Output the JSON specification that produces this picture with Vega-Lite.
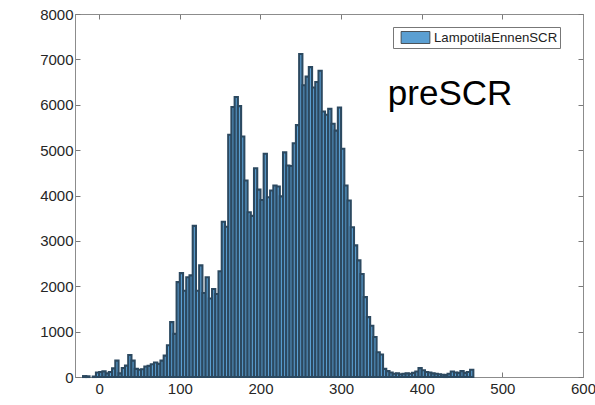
{
  "$schema": "https://vega.github.io/schema/vega-lite/v6.json",
  "width": 508,
  "height": 363,
  "autosize": {"type": "none"},
  "padding": {"left": 75, "top": 14, "right": 12, "bottom": 28},
  "background": "white",
  "config": {
    "view": {"stroke": "#8c8c8c", "strokeWidth": 1},
    "axis": {
      "grid": false,
      "title": null,
      "format": "d",
      "labelFont": "Liberation Sans",
      "labelFontSize": 15,
      "labelColor": "#262626",
      "tickColor": "#7a7a7a",
      "domainColor": "#8c8c8c",
      "labelFlush": false,
      "labelOverlap": false,
      "labelBound": false
    }
  },
  "data": {
    "values": [
      {"lo": -20, "hi": -16, "n": 20}, {"lo": -16, "hi": -12, "n": 15}, {"lo": -8, "hi": -4, "n": 10},
      {"lo": -4, "hi": 0, "n": 100}, {"lo": 0, "hi": 4, "n": 110}, {"lo": 4, "hi": 8, "n": 125},
      {"lo": 8, "hi": 12, "n": 80}, {"lo": 12, "hi": 16, "n": 110}, {"lo": 16, "hi": 20, "n": 190},
      {"lo": 20, "hi": 24, "n": 360}, {"lo": 24, "hi": 28, "n": 80}, {"lo": 28, "hi": 32, "n": 200},
      {"lo": 32, "hi": 36, "n": 250}, {"lo": 36, "hi": 40, "n": 485}, {"lo": 40, "hi": 44, "n": 360},
      {"lo": 44, "hi": 48, "n": 180}, {"lo": 48, "hi": 52, "n": 160}, {"lo": 52, "hi": 56, "n": 170},
      {"lo": 56, "hi": 60, "n": 230}, {"lo": 60, "hi": 64, "n": 245}, {"lo": 64, "hi": 68, "n": 280},
      {"lo": 68, "hi": 72, "n": 320}, {"lo": 72, "hi": 76, "n": 290}, {"lo": 76, "hi": 80, "n": 360},
      {"lo": 80, "hi": 84, "n": 470}, {"lo": 84, "hi": 88, "n": 700}, {"lo": 88, "hi": 92, "n": 1210},
      {"lo": 92, "hi": 96, "n": 950}, {"lo": 96, "hi": 100, "n": 2090}, {"lo": 100, "hi": 104, "n": 2290},
      {"lo": 104, "hi": 108, "n": 1900}, {"lo": 108, "hi": 112, "n": 2200}, {"lo": 112, "hi": 116, "n": 2240},
      {"lo": 116, "hi": 120, "n": 3330}, {"lo": 120, "hi": 124, "n": 1900}, {"lo": 124, "hi": 128, "n": 2460},
      {"lo": 128, "hi": 132, "n": 1850}, {"lo": 132, "hi": 136, "n": 2200}, {"lo": 136, "hi": 140, "n": 1730},
      {"lo": 140, "hi": 144, "n": 1940}, {"lo": 144, "hi": 148, "n": 1830}, {"lo": 148, "hi": 152, "n": 2330},
      {"lo": 152, "hi": 156, "n": 3420}, {"lo": 156, "hi": 160, "n": 3310}, {"lo": 160, "hi": 164, "n": 5340},
      {"lo": 164, "hi": 168, "n": 5950}, {"lo": 168, "hi": 172, "n": 6170}, {"lo": 172, "hi": 176, "n": 5970},
      {"lo": 176, "hi": 180, "n": 5300}, {"lo": 180, "hi": 184, "n": 4330}, {"lo": 184, "hi": 188, "n": 3630},
      {"lo": 188, "hi": 192, "n": 3550}, {"lo": 192, "hi": 196, "n": 4600}, {"lo": 196, "hi": 200, "n": 4130},
      {"lo": 200, "hi": 204, "n": 3900}, {"lo": 204, "hi": 208, "n": 4920}, {"lo": 208, "hi": 212, "n": 3960},
      {"lo": 212, "hi": 216, "n": 4110}, {"lo": 216, "hi": 220, "n": 4220}, {"lo": 220, "hi": 224, "n": 4200},
      {"lo": 224, "hi": 228, "n": 3980}, {"lo": 228, "hi": 232, "n": 4950}, {"lo": 232, "hi": 236, "n": 4660},
      {"lo": 236, "hi": 240, "n": 4650}, {"lo": 240, "hi": 244, "n": 5150}, {"lo": 244, "hi": 248, "n": 5550},
      {"lo": 248, "hi": 252, "n": 7120}, {"lo": 252, "hi": 256, "n": 6430}, {"lo": 256, "hi": 260, "n": 6620},
      {"lo": 260, "hi": 264, "n": 6830}, {"lo": 264, "hi": 268, "n": 6380}, {"lo": 268, "hi": 272, "n": 6500},
      {"lo": 272, "hi": 276, "n": 6750}, {"lo": 276, "hi": 280, "n": 5850}, {"lo": 280, "hi": 284, "n": 5780},
      {"lo": 284, "hi": 288, "n": 5910}, {"lo": 288, "hi": 292, "n": 5580}, {"lo": 292, "hi": 296, "n": 5430},
      {"lo": 296, "hi": 300, "n": 5940}, {"lo": 300, "hi": 304, "n": 5030}, {"lo": 304, "hi": 308, "n": 4220},
      {"lo": 308, "hi": 312, "n": 3890}, {"lo": 312, "hi": 316, "n": 3300}, {"lo": 316, "hi": 320, "n": 2900},
      {"lo": 320, "hi": 324, "n": 2570}, {"lo": 324, "hi": 328, "n": 2270}, {"lo": 328, "hi": 332, "n": 1760},
      {"lo": 332, "hi": 336, "n": 1320}, {"lo": 336, "hi": 340, "n": 1130}, {"lo": 340, "hi": 344, "n": 880},
      {"lo": 344, "hi": 348, "n": 545}, {"lo": 348, "hi": 352, "n": 495}, {"lo": 352, "hi": 356, "n": 180},
      {"lo": 356, "hi": 360, "n": 130}, {"lo": 360, "hi": 364, "n": 100}, {"lo": 364, "hi": 368, "n": 70},
      {"lo": 368, "hi": 372, "n": 80}, {"lo": 372, "hi": 376, "n": 60}, {"lo": 376, "hi": 380, "n": 70},
      {"lo": 380, "hi": 384, "n": 80}, {"lo": 384, "hi": 388, "n": 70}, {"lo": 388, "hi": 392, "n": 90},
      {"lo": 392, "hi": 396, "n": 120}, {"lo": 396, "hi": 400, "n": 195}, {"lo": 400, "hi": 404, "n": 150},
      {"lo": 404, "hi": 408, "n": 110}, {"lo": 408, "hi": 412, "n": 100}, {"lo": 412, "hi": 416, "n": 80},
      {"lo": 416, "hi": 420, "n": 70}, {"lo": 420, "hi": 424, "n": 60}, {"lo": 424, "hi": 428, "n": 50},
      {"lo": 428, "hi": 432, "n": 45}, {"lo": 432, "hi": 436, "n": 70}, {"lo": 436, "hi": 440, "n": 120},
      {"lo": 440, "hi": 444, "n": 100}, {"lo": 444, "hi": 448, "n": 90}, {"lo": 448, "hi": 452, "n": 130},
      {"lo": 452, "hi": 456, "n": 90}, {"lo": 456, "hi": 460, "n": 110}, {"lo": 460, "hi": 464, "n": 160}
    ]
  },
  "layer": [
    {
      "mark": {"type": "bar", "stroke": "#2c4960", "strokeWidth": 2.1, "strokeJoin": "miter"},
      "encoding": {
        "x": {
          "field": "lo", "type": "quantitative",
          "scale": {"domain": [-30, 600], "nice": false, "zero": false},
          "axis": {"orient": "bottom", "values": [0, 100, 200, 300, 400, 500, 600], "tickSize": -5, "labelPadding": 9}
        },
        "x2": {"field": "hi"},
        "y": {
          "field": "n", "type": "quantitative",
          "scale": {"domain": [0, 8000], "nice": false},
          "axis": {"orient": "left", "values": [0, 1000, 2000, 3000, 4000, 5000, 6000, 7000, 8000], "tickSize": -5, "labelPadding": 7}
        },
        "y2": {"datum": 0},
        "color": {
          "datum": "LampotilaEnnenSCR",
          "scale": {"range": ["#5b9fd2"]},
          "legend": {
            "title": null,
            "orient": "none",
            "legendX": 318,
            "legendY": 13,
            "strokeColor": "#777777",
            "fillColor": "#ffffff",
            "padding": 2,
            "symbolType": "M-1.8,-0.75H1.8V0.75H-1.8Z",
            "symbolSize": 256,
            "symbolOffset": 12,
            "symbolStrokeColor": "#333333",
            "symbolStrokeWidth": 0.8,
            "labelFont": "Liberation Sans",
            "labelFontSize": 13.2,
            "labelColor": "#222222",
            "labelOffset": 10
          }
        }
      }
    },
    {
      "data": {"values": [{"px": 358, "py": 5990, "label": "preSCR"}]},
      "mark": {"type": "text", "align": "left", "baseline": "alphabetic", "font": "Liberation Sans", "fontSize": 35, "color": "#000000"},
      "encoding": {
        "x": {"field": "px", "type": "quantitative", "axis": {"orient": "top", "values": [0, 100, 200, 300, 400, 500, 600], "labels": false, "tickSize": -5}},
        "y": {"field": "py", "type": "quantitative", "axis": {"orient": "right", "values": [0, 1000, 2000, 3000, 4000, 5000, 6000, 7000, 8000], "labels": false, "tickSize": -5}},
        "text": {"field": "label"}
      }
    }
  ],
  "resolve": {"axis": {"x": "independent", "y": "independent"}}
}
